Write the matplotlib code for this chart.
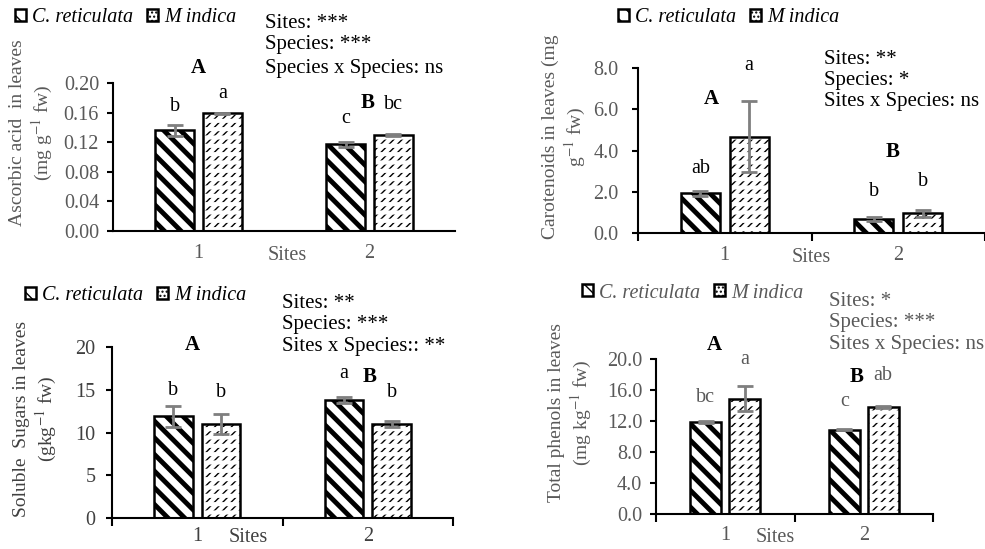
import numpy as np
import matplotlib.pyplot as plt
from matplotlib.patches import Patch
from matplotlib.ticker import FormatStrFormatter

plt.rcParams['font.family'] = ['Liberation Serif', 'DejaVu Serif']
plt.rcParams['mathtext.fontset'] = 'stix'
plt.rcParams['font.size'] = 14.5

# data
sites = ['1', '2']
species = ['C. reticulata', 'M indica']

asc_cr = [0.136, 0.117]
asc_cr_err = [0.007, 0.003]
asc_mi = [0.159, 0.130]
asc_mi_err = [0.001, 0.001]
asc_let_cr = ['b', 'c']
asc_let_mi = ['a', 'bc']
asc_stats = ['Sites: ***', 'Species: ***', 'Species x Species: ns']

car_cr = [1.93, 0.68]
car_cr_err = [0.12, 0.08]
car_mi = [4.67, 0.96]
car_mi_err = [1.73, 0.17]
car_let_cr = ['ab', 'b']
car_let_mi = ['a', 'b']
car_stats = ['Sites: **', 'Species: *', 'Sites x Species: ns']

sug_cr = [11.9, 13.8]
sug_cr_err = [1.2, 0.4]
sug_mi = [11.0, 11.0]
sug_mi_err = [1.2, 0.3]
sug_let_cr = ['b', 'a']
sug_let_mi = ['b', 'b']
sug_stats = ['Sites: **', 'Species: ***', 'Sites x Species:: **']

phe_cr = [11.9, 10.9]
phe_cr_err = [0.1, 0.1]
phe_mi = [14.9, 13.85]
phe_mi_err = [1.65, 0.15]
phe_let_cr = ['bc', 'c']
phe_let_mi = ['a', 'ab']
phe_stats = ['Sites: *', 'Species: ***', 'Sites x Species: ns']

W, H = 985, 549
fig = plt.figure(figsize=(W / 100, H / 100), dpi=100)

BAR_W = 0.225
OFF = 0.14
ERR_COL = '#7f7f7f'


def set_hlw(container, lw):
    for p in container.patches:
        if hasattr(p, 'set_hatch_linewidth'):
            p.set_hatch_linewidth(lw)


def bars(ax, x, vals, kind):
    if kind == 'stripe':
        with plt.rc_context({'hatch.linewidth': 3.5}):
            b = ax.bar(x, vals, BAR_W, color='white', edgecolor='black',
                       hatch='\\\\', linewidth=1.8, zorder=2)
        set_hlw(b, 3.5)
    else:
        # short slanted dashes: thin diagonals broken by white rows
        with plt.rc_context({'hatch.linewidth': 1.0}):
            b = ax.bar(x, vals, BAR_W, color='white', edgecolor='black',
                       hatch='////', linewidth=0, zorder=2)
        set_hlw(b, 1.0)
        with plt.rc_context({'hatch.linewidth': 3.0}):
            b = ax.bar(x, vals, BAR_W, color='none', edgecolor='white',
                       hatch='--', linewidth=0, zorder=2.1)
        set_hlw(b, 3.0)
        ax.bar(x, vals, BAR_W, fill=False, edgecolor='black', linewidth=1.8, zorder=2.2)


def panel(rect, cr, cr_err, mi, mi_err, let_cr, let_mi, stats, lay):
    l, t, r, b = rect
    ax = fig.add_axes([l / W, 1 - b / H, (r - l) / W, (b - t) / H])
    x = np.arange(len(sites))
    bars(ax, x - OFF, cr, 'stripe')
    bars(ax, x + OFF, mi, 'dash')
    ax.errorbar(x - OFF, cr, yerr=cr_err, fmt='none', ecolor=ERR_COL,
                elinewidth=2, capsize=6, capthick=2, zorder=3)
    ax.errorbar(x + OFF, mi, yerr=mi_err, fmt='none', ecolor=ERR_COL,
                elinewidth=2, capsize=6, capthick=2, zorder=3)

    ax.set_xlim(-0.5, lay['xmax'])
    ax.set_ylim(0, lay['ytop'])
    ax.set_yticks(lay['yticks'])
    ax.yaxis.set_major_formatter(FormatStrFormatter(lay['yfmt']))
    ax.set_xticks(x)
    ax.set_xticklabels(sites)
    ax.set_xticks([-0.5, 0.5, 1.5], minor=True)
    ax.tick_params(axis='x', which='major', length=0, pad=lay['xpad'],
                   labelcolor=lay['tcol'])
    ax.tick_params(axis='x', which='minor', length=6 if lay['minor'] else 0,
                   width=1.5)
    ax.tick_params(axis='y', length=4, width=1.5, pad=lay['ypad'],
                   labelcolor=lay['tcol'])
    for s in ['top', 'right']:
        ax.spines[s].set_visible(False)
    for s in ['left', 'bottom']:
        ax.spines[s].set_linewidth(1.5)

    ax.annotate('Sites', xy=(lay['sites_x'], 0), xycoords=('data', 'axes fraction'),
                xytext=(0, -lay['sites_off'] * 0.72), textcoords='offset points',
                ha='center', va='center', color=lay['tcol'])

    for xi, v, e, lt, o in zip(x - OFF, cr, cr_err, let_cr, lay['off_cr']):
        ax.annotate(lt, xy=(xi, v + e), xytext=(0, o * 0.72), textcoords='offset points',
                    ha='center', va='center', color=lay['lcol'])
    for xi, v, e, lt, o in zip(x + OFF, mi, mi_err, let_mi, lay['off_mi']):
        ax.annotate(lt, xy=(xi, v + e), xytext=(0, o * 0.72), textcoords='offset points',
                    ha='center', va='center', color=lay['lcol'])
    for lt, (px, py) in zip(['A', 'B'], lay['ab']):
        ax.text(px, py, lt, fontweight='bold', ha='center', va='center',
                fontsize=15, color='black')

    sx, sys_ = lay['stats_xy']
    for s, yy in zip(stats, sys_):
        fig.text(sx / W, 1 - yy / H, s, ha='left', va='center', color=lay['scol'],
                 fontsize=15)

    cx, cy = lay['ylab_xy']
    fig.text(cx / W, 1 - cy / H, lay['ylabel'], rotation=90, ha='center', va='center',
             multialignment='center', color=lay['tcol'], fontsize=14)

    handles = [Patch(facecolor='white', edgecolor='black', hatch='\\\\', linewidth=1.8),
               Patch(facecolor='white', edgecolor='black', hatch='....', linewidth=1.8)]
    lx, ly = lay['leg_xy']
    ax.legend(handles, species, loc='center left', bbox_to_anchor=(lx / W, 1 - ly / H),
              bbox_transform=fig.transFigure, ncol=2, frameon=False,
              handlelength=0.55, handleheight=0.55, handletextpad=0.3,
              columnspacing=0.7, borderpad=0, borderaxespad=0,
              prop={'style': 'italic', 'size': 14.5}, labelcolor=lay['scol'])
    return ax


panel((113, 83, 455, 231), asc_cr, asc_cr_err, asc_mi, asc_mi_err,
      asc_let_cr, asc_let_mi, asc_stats,
      dict(xmax=1.5, ytop=0.2, yticks=np.linspace(0, 0.2, 6), yfmt='%.2f',
           xpad=9.4, ypad=6, minor=False, tcol='#595959', lcol='black', scol='black',
           sites_x=0.52, sites_off=24, off_cr=[19, 24], off_mi=[19, 30],
           ab=[(0.0, 0.220), (0.99, 0.173)], stats_xy=(265, [23, 45, 68]),
           ylab_xy=(32, 133), ylabel='Ascorbic acid  in leaves\n(mg g$^{-1}$ fw)',
           leg_xy=(15, 18)))

panel((638, 68, 985, 233), car_cr, car_cr_err, car_mi, car_mi_err,
      car_let_cr, car_let_mi, car_stats,
      dict(xmax=1.46, ytop=8, yticks=[0, 2, 4, 6, 8], yfmt='%.1f',
           xpad=9.4, ypad=10, minor=True, tcol='#595959', lcol='black', scol='black',
           sites_x=0.5, sites_off=24, off_cr=[22, 26], off_mi=[35, 28],
           ab=[(-0.08, 6.5), (0.97, 3.93)], stats_xy=(824, [59, 80, 101]),
           ylab_xy=(565, 137), ylabel='Carotenoids in leaves (mg\ng$^{-1}$ fw)',
           leg_xy=(618, 18)))

panel((112, 347, 453, 518), sug_cr, sug_cr_err, sug_mi, sug_mi_err,
      sug_let_cr, sug_let_mi, sug_stats,
      dict(xmax=1.5, ytop=20, yticks=[0, 5, 10, 15, 20], yfmt='%d',
           xpad=6.5, ypad=8, minor=True, tcol='#404040', lcol='black', scol='black',
           sites_x=0.30, sites_off=20, off_cr=[15, 23], off_mi=[21, 29],
           ab=[(-0.03, 20.2), (1.01, 16.45)], stats_xy=(282, [303, 325, 347]),
           ylab_xy=(36, 419), ylabel='Soluble  Sugars in leaves\n(gkg$^{-1}$ fw)',
           leg_xy=(25, 296)))

panel((656, 359, 933, 514), phe_cr, phe_cr_err, phe_mi, phe_mi_err,
      phe_let_cr, phe_let_mi, phe_stats,
      dict(xmax=1.5, ytop=20, yticks=[0, 4, 8, 12, 16, 20], yfmt='%.1f',
           xpad=8.6, ypad=6, minor=True, tcol='#595959', lcol='#595959', scol='#595959',
           sites_x=0.36, sites_off=23, off_cr=[24, 27], off_mi=[26, 30],
           ab=[(-0.08, 21.8), (0.95, 17.7)], stats_xy=(829, [302, 323, 345]),
           ylab_xy=(571, 413), ylabel='Total phenols in leaves\n(mg kg$^{-1}$ fw)',
           leg_xy=(582, 293)))

fig.savefig('out.png', dpi=100)
